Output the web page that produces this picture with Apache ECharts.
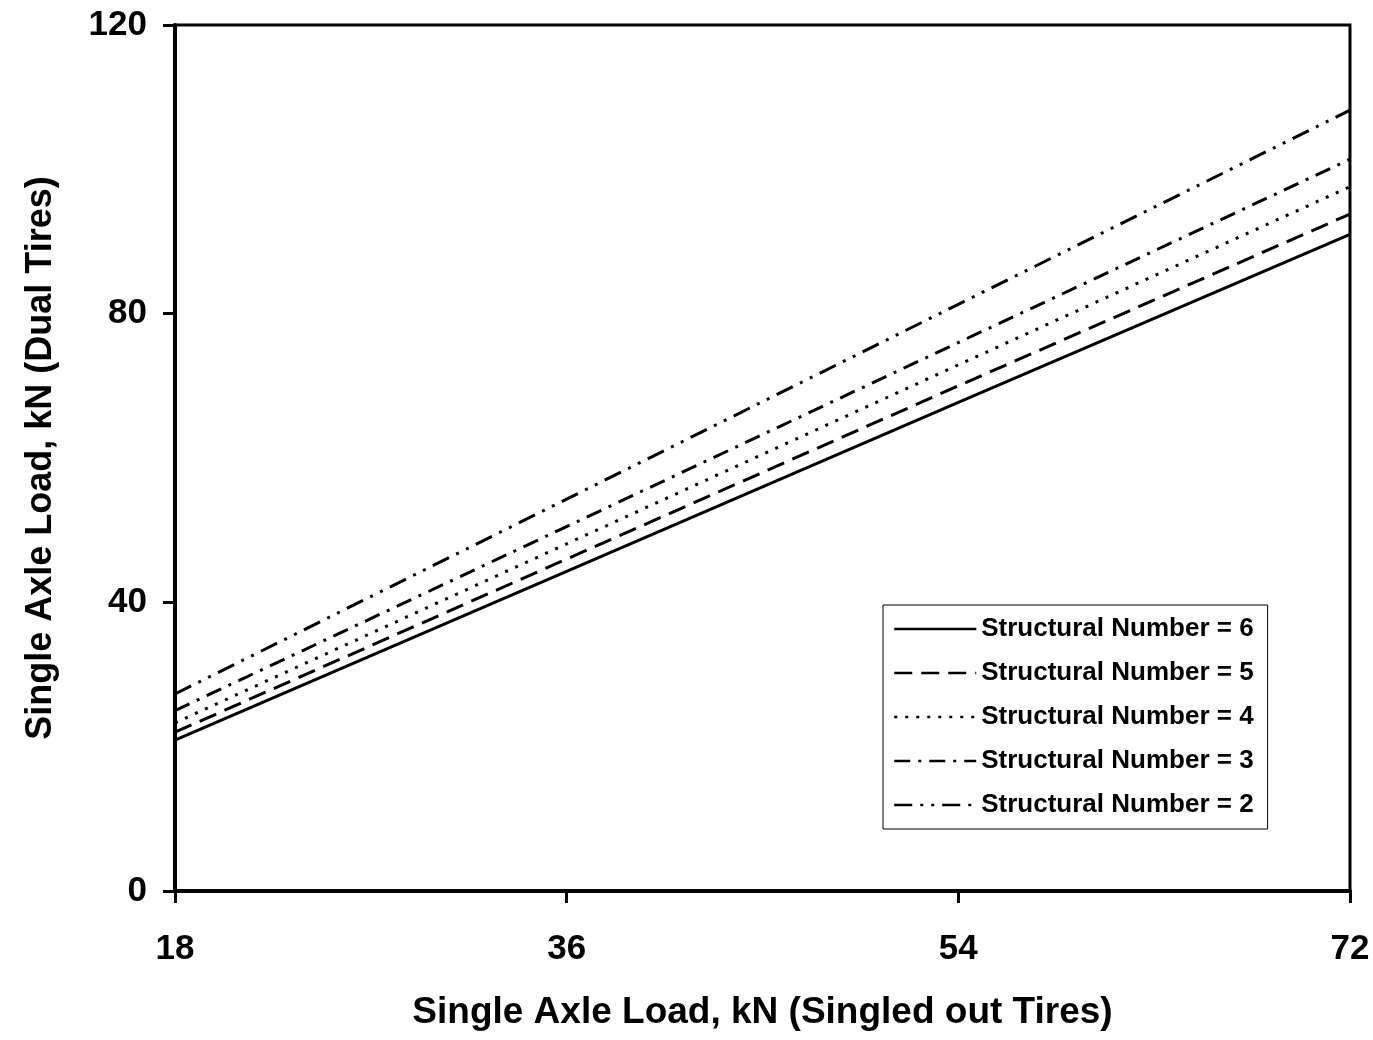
<!DOCTYPE html>
<html>
<head>
<meta charset="utf-8">
<script src="https://cdn.jsdelivr.net/npm/echarts@6/dist/echarts.min.js"></script>
<style>
html,body{margin:0;padding:0;background:#fff;}
#chart{width:1373px;height:1040px;}
</style>
</head>
<body>
<div id="chart"></div>
<script>
const xValues = [18, 36, 54, 72];
const xTicks = [18, 36, 54, 72];
const yTicks = [0, 40, 80, 120];
const seriesNames = [
  "Structural Number = 6",
  "Structural Number = 5",
  "Structural Number = 4",
  "Structural Number = 3",
  "Structural Number = 2"
];
const sn6 = [20.9, 44.3, 67.7, 91.0];
const sn5 = [22.0, 46.0, 70.0, 93.8];
const sn4 = [23.3, 48.1, 72.9, 97.6];
const sn3 = [25.0, 50.5, 76.0, 101.4];
const sn2 = [27.3, 54.3, 81.3, 108.2];
const xTitle = "Single Axle Load, kN (Singled out Tires)";
const yTitle = "Single Axle Load, kN (Dual Tires)";

const font = '"Liberation Sans", Arial, sans-serif';
const allValues = [sn6, sn5, sn4, sn3, sn2];
const dashes = ['solid', [18, 9], [3, 8], [16, 8, 3, 8], [18, 8, 3, 8, 3, 8]];

const chart = echarts.init(document.getElementById('chart'), null, {renderer: 'canvas'});
chart.setOption({
  animation: false,
  backgroundColor: '#fff',
  grid: {left: 175, right: 23, top: 25, bottom: 149, show: true, borderColor: '#000', borderWidth: 3, backgroundColor: 'transparent'},
  legend: {
    orient: 'vertical',
    left: 883, top: 605,
    padding: [11, 14, 11, 10],
    itemWidth: 82, itemHeight: 20, itemGap: 18,
    borderColor: '#000', borderWidth: 1,
    backgroundColor: '#fff',
    itemStyle: {opacity: 0},
    lineStyle: {width: 2.5},
    textStyle: {fontFamily: font, fontWeight: 'bold', fontSize: 26, color: '#000', lineHeight: 24, padding: [0,0,0,0]},
    data: seriesNames
  },
  xAxis: {
    type: 'value', min: 18, max: 72, interval: 18,
    name: xTitle, nameLocation: 'middle', nameGap: 103,
    nameTextStyle: {fontFamily: font, fontWeight: 'bold', fontSize: 37, color: '#000'},
    axisLine: {show: true, lineStyle: {color: '#000', width: 4}},
    axisTick: {show: true, length: 12, lineStyle: {color: '#000', width: 3}, customValues: xTicks},
    axisLabel: {fontFamily: font, fontWeight: 'bold', fontSize: 35, color: '#000', margin: 41, customValues: xTicks},
    splitLine: {show: false}
  },
  yAxis: {
    type: 'value', min: 0, max: 120, interval: 40,
    name: yTitle, nameLocation: 'middle', nameGap: 116,
    nameTextStyle: {fontFamily: font, fontWeight: 'bold', fontSize: 36, color: '#000'},
    axisLine: {show: true, lineStyle: {color: '#000', width: 4}},
    axisTick: {show: true, length: 12, lineStyle: {color: '#000', width: 3}, customValues: yTicks},
    axisLabel: {fontFamily: font, fontWeight: 'bold', fontSize: 35, color: '#000', margin: 28, customValues: yTicks},
    splitLine: {show: false}
  },
  series: seriesNames.map((n, i) => ({
    name: n,
    type: 'line',
    symbol: 'none',
    showSymbol: false,
    data: xValues.map((x, j) => [x, allValues[i][j]]),
    lineStyle: {color: '#000', width: 3, type: dashes[i]},
    itemStyle: {color: '#000'}
  }))
});
</script>
</body>
</html>
